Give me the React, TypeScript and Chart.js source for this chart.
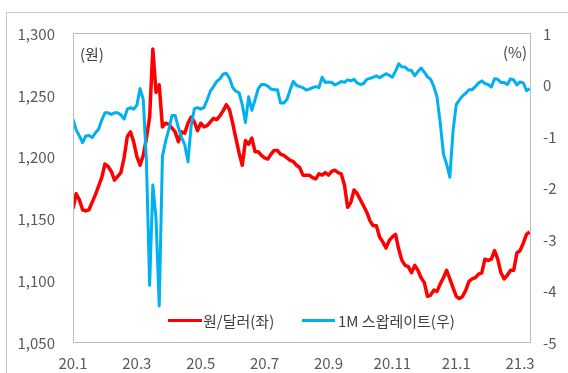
import React, { useEffect, useRef } from "react";
import { Chart, registerables } from "chart.js";

Chart.register(...registerables);

// Samples are spaced evenly in months, starting at January 2020.
const monthStep = 0.1;
const xTickLabels = ["20.1", "20.3", "20.5", "20.7", "20.9", "20.11", "21.1", "21.3"];
const leftTicks = [1050, 1100, 1150, 1200, 1250, 1300];
const rightTicks = [-5, -4, -3, -2, -1, 0, 1];

// 원/달러 환율 (좌축, 원)
const usdKrw = [
  1158, 1170, 1165, 1157, 1156, 1157, 1163, 1169, 1176, 1183,
  1194, 1192, 1188, 1181, 1184, 1187, 1199, 1216, 1220, 1212,
  1200, 1193, 1201, 1215, 1232, 1287, 1252, 1258, 1224, 1227,
  1226, 1223, 1220, 1212, 1220, 1219, 1227, 1232, 1228, 1221,
  1227, 1224, 1225, 1228, 1231, 1230, 1233, 1237, 1242, 1238,
  1227, 1215, 1203, 1193, 1213, 1210, 1215, 1204, 1204, 1201,
  1199, 1198, 1202, 1205, 1205, 1202, 1201, 1199, 1197, 1196,
  1193, 1191, 1185, 1185, 1185, 1183, 1182, 1186, 1185, 1187,
  1185, 1188, 1189, 1187, 1186, 1177, 1159, 1163, 1173, 1170,
  1165, 1160, 1155, 1148, 1144, 1144, 1135, 1131, 1126, 1132,
  1135, 1137, 1125, 1116, 1112, 1111, 1106, 1112, 1108, 1102,
  1098, 1087, 1088, 1092, 1091, 1097, 1102, 1108, 1101, 1094,
  1087, 1085, 1087, 1092, 1099, 1101, 1102, 1105, 1106, 1117,
  1116, 1117, 1124, 1117, 1106, 1101, 1104, 1108, 1108, 1122,
  1124, 1130, 1137, 1139,
];

// 1M 스왑레이트 (우축, %)
const swap1m = [
  -0.68, -0.88, -1.0, -1.13, -1.0, -0.99, -1.03, -0.94, -0.87, -0.69,
  -0.55, -0.55, -0.58, -0.55, -0.55, -0.59, -0.67, -0.48, -0.45, -0.48,
  -0.4, -0.08, -0.29, -1.5, -3.9, -1.95, -2.6, -4.3, -1.4, -1.1,
  -0.87, -0.6, -0.6, -0.84, -1.03, -1.17, -1.5, -0.8, -0.47, -0.45,
  -0.48, -0.45, -0.3, -0.13, -0.04, 0.06, 0.11, 0.2, 0.22, 0.12,
  -0.06, -0.13, -0.16, -0.39, -0.74, -0.24, -0.5, -0.3, -0.08, 0.0,
  0.0, -0.03, -0.09, -0.1, -0.1, -0.36, -0.36, -0.29, -0.1, 0.06,
  -0.02, -0.04, -0.06, -0.11, -0.09, -0.06, -0.04, -0.06, 0.14, 0.04,
  0.05, 0.04, -0.01, 0.02, 0.06, 0.04, 0.09, 0.07, 0.1, 0.03,
  0.0, 0.02, 0.1, 0.12, 0.14, 0.17, 0.13, 0.17, 0.21, 0.18,
  0.14, 0.26, 0.4, 0.34, 0.34, 0.28, 0.27, 0.17, 0.25, 0.32,
  0.24, 0.15, 0.1, -0.04, -0.25, -0.75, -1.35, -1.55, -1.8, -0.9,
  -0.39, -0.3, -0.22, -0.17, -0.1, -0.1, -0.04, 0.03, 0.07, 0.02,
  0.0, -0.05, 0.11, 0.1, 0.04, 0.04, 0.0, 0.11, 0.09, -0.01,
  0.05, 0.03, -0.12, -0.08,
];

const seriesNames = ["원/달러(좌)", "1M 스왑레이트(우)"];
const RED = "#ff0000";
const BLUE = "#00b0f0";
const FONT = "'Noto Sans CJK KR', 'Noto Sans', sans-serif";
const TICK_COLOR = "#595959";

const toPoints = (values: number[]) =>
  values.map((v, i) => ({ x: +(i * monthStep).toFixed(2), y: v }));

const plotFrame = {
  id: "plotFrame",
  afterDatasetsDraw(chart: any) {
    const { ctx, chartArea: a } = chart;
    ctx.save();
    ctx.strokeStyle = "#bcbcbc";
    ctx.lineWidth = 1;
    ctx.strokeRect(Math.round(a.left) + 0.5, Math.round(a.top) + 0.5,
      Math.round(a.right - a.left), Math.round(a.bottom - a.top));
    ctx.restore();
  },
};

export default function App() {
  const canvasRef = useRef<HTMLCanvasElement | null>(null);

  useEffect(() => {
    document.body.style.margin = "0";
    const canvas = canvasRef.current;
    if (!canvas) return;
    const tickFont = { family: FONT, size: 15 };
    const noGrid = { display: false, drawTicks: false };
    const chart = new Chart(canvas, {
      type: "line",
      data: {
        datasets: [
          {
            label: seriesNames[1],
            data: toPoints(swap1m),
            yAxisID: "y1",
            borderColor: BLUE,
            backgroundColor: BLUE,
            borderWidth: 3,
            pointRadius: 0,
            tension: 0,
            borderJoinStyle: "round",
            order: 0,
          },
          {
            label: seriesNames[0],
            data: toPoints(usdKrw),
            yAxisID: "y",
            borderColor: RED,
            backgroundColor: RED,
            borderWidth: 3.5,
            pointRadius: 0,
            tension: 0,
            borderJoinStyle: "round",
            order: 1,
          },
        ],
      },
      options: {
        animation: false,
        responsive: false,
        devicePixelRatio: 1,
        layout: { padding: { left: 13, top: 33, right: 0, bottom: 0 } },
        plugins: { legend: { display: false }, tooltip: { enabled: false } },
        scales: {
          x: {
            type: "linear",
            min: 0,
            max: 14.31,
            grid: noGrid,
            border: { display: false },
            afterBuildTicks: (s: any) => {
              s.ticks = xTickLabels.map((_, i) => ({ value: i * 2 }));
            },
            afterFit: (s: any) => { s.height = 31; },
            ticks: {
              font: tickFont,
              color: TICK_COLOR,
              padding: 12,
              maxRotation: 0,
              autoSkip: false,
              callback: (v: any) => xTickLabels[Math.round(Number(v) / 2)] ?? "",
            },
          },
          y: {
            position: "left",
            min: 1050,
            max: 1300,
            grid: noGrid,
            border: { display: false },
            afterBuildTicks: (s: any) => {
              s.ticks = leftTicks.map((v) => ({ value: v }));
            },
            afterFit: (s: any) => { s.width = 60; },
            ticks: {
              font: tickFont,
              color: TICK_COLOR,
              padding: 18,
              labelOffset: 1,
              callback: (v: any) => Number(v).toLocaleString("en-US"),
            },
          },
          y1: {
            position: "right",
            min: -5,
            max: 1,
            grid: noGrid,
            border: { display: false },
            afterBuildTicks: (s: any) => {
              s.ticks = rightTicks.map((v) => ({ value: v }));
            },
            afterFit: (s: any) => { s.width = 38; },
            ticks: {
              font: tickFont,
              color: TICK_COLOR,
              padding: 13,
              labelOffset: 1,
              callback: (v: any) => String(v),
            },
          },
        },
      },
      plugins: [plotFrame],
    } as any);
    return () => chart.destroy();
  }, []);

  const textStyle: React.CSSProperties = {
    position: "absolute",
    fontFamily: FONT,
    fontSize: 15,
    lineHeight: "20px",
    color: "#404040",
    whiteSpace: "nowrap",
  };

  return (
    <div style={{ position: "relative", width: 568, height: 373, overflow: "hidden", background: "#fff" }}>
      <div
        style={{
          position: "absolute",
          left: 6,
          top: 12,
          width: 600,
          height: 400,
          borderLeft: "1px solid #c8c8c8",
          borderTop: "1px solid #c8c8c8",
        }}
      />
      <canvas ref={canvasRef} width={568} height={373} style={{ position: "absolute", left: 0, top: 0 }} />
      <span style={{ ...textStyle, left: 80, top: 44 }}>(원)</span>
      <span style={{ ...textStyle, left: 503, top: 42 }}>(%)</span>
      <div style={{ position: "absolute", left: 168, top: 319, width: 34, height: 3, background: RED }} />
      <span style={{ ...textStyle, left: 203, top: 311 }}>{seriesNames[0]}</span>
      <div style={{ position: "absolute", left: 302, top: 319, width: 33, height: 3, background: BLUE }} />
      <span style={{ ...textStyle, left: 338, top: 311 }}>{seriesNames[1]}</span>
    </div>
  );
}
